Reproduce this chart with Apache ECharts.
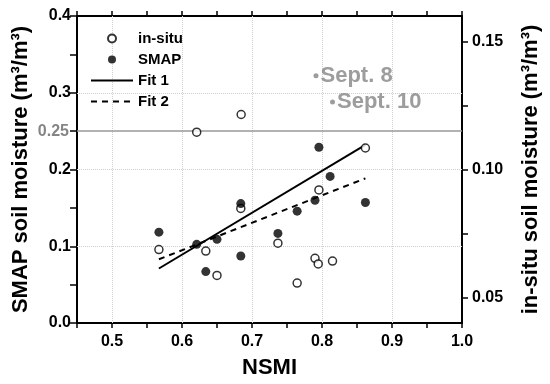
<!DOCTYPE html>
<html>
<head>
<meta charset="utf-8">
<script src="https://cdn.jsdelivr.net/npm/echarts@6/dist/echarts.min.js"></script>
<style>html,body{margin:0;padding:0;background:#fff}#c{width:550px;height:384px}</style>
</head>
<body>
<div id="c"></div>
<script>
// NSMI (x) values and soil moisture values
const insituX = [0.567, 0.621, 0.634, 0.650, 0.684, 0.6845, 0.737, 0.7645, 0.790, 0.7946, 0.7956, 0.815, 0.862];
const insituY = [0.0687, 0.1146, 0.0681, 0.0586, 0.0848, 0.1215, 0.0712, 0.0556, 0.0653, 0.0631, 0.092, 0.0642, 0.1084];
const smapX = [0.567, 0.621, 0.634, 0.650, 0.684, 0.684, 0.737, 0.7645, 0.790, 0.7956, 0.8116, 0.862];
const smapY = [0.1184, 0.1025, 0.067, 0.109, 0.1556, 0.0873, 0.1167, 0.1457, 0.160, 0.229, 0.191, 0.157];
const fit1X = [0.567, 0.862];
const fit1Y = [0.071, 0.232];
const fit2X = [0.567, 0.862];
const fit2Y = [0.083, 0.1885];
const septNames = ['Sept. 8', 'Sept. 10'];
const septX = [0.7914, 0.815];
const septY = [0.322, 0.288];
const threshold = 0.25;
const gridX = [0.5, 0.6, 0.7, 0.8, 0.9];
const gridY = [0.1, 0.2, 0.3];
const rightLabels = [0.05, 0.10, 0.15];
const rightTicks = [0.05, 0.075, 0.10, 0.125, 0.15];

const FONT = 'Liberation Sans, Arial, sans-serif';
const zip = (xs, ys) => xs.map((x, i) => [x, ys[i]]);

const dotted = {color: '#cfcfcf', type: 'dotted', width: 1};
const markData = [];
gridX.forEach(v => markData.push({xAxis: v, lineStyle: dotted, label: {show: false}}));
gridY.forEach(v => markData.push({yAxis: v, lineStyle: dotted, label: {show: false}}));
markData.push({yAxis: threshold, lineStyle: {color: '#999', type: 'solid', width: 1.5},
  label: {show: true, position: 'start', distance: 8, formatter: '0.25', color: '#858585',
    fontSize: 16, fontWeight: 'bold', fontFamily: FONT}});

const chart = echarts.init(document.getElementById('c'));
chart.setOption({
  animation: false,
  backgroundColor: '#fff',
  grid: {left: 77, right: 83, top: 16, bottom: 60, containLabel: false},
  legend: {
    data: ['in-situ', 'SMAP', {name: 'Fit 1', itemStyle: {opacity: 0}}, {name: 'Fit 2', itemStyle: {opacity: 0}}],
    orient: 'vertical', left: 85, top: 26,
    itemWidth: 42, itemHeight: 8, itemGap: 6,
    textStyle: {fontSize: 15, fontWeight: 'bold', fontFamily: FONT, color: '#000'}
  },
  xAxis: [{
    type: 'value', min: 0.45, max: 1.0, interval: 0.05,
    name: 'NSMI', nameLocation: 'middle', nameGap: 34,
    nameTextStyle: {fontSize: 22, fontWeight: 'bold', fontFamily: FONT, color: '#000'},
    axisLine: {show: true, onZero: false, lineStyle: {color: '#000', width: 2}},
    axisTick: {show: true, length: 5, lineStyle: {color: '#000', width: 1.5}},
    axisLabel: {fontSize: 16, fontWeight: 'bold', fontFamily: FONT, color: '#000', margin: 11,
      formatter: v => (Math.round(v * 100) % 10 === 0 ? v.toFixed(1) : '')},
    splitLine: {show: false}
  }, {
    type: 'value', position: 'top', min: 0.45, max: 1.0, interval: 0.05,
    axisLine: {show: true, onZero: false, lineStyle: {color: '#000', width: 2}},
    axisTick: {show: true, length: 5, lineStyle: {color: '#000', width: 1.5}},
    axisLabel: {show: false}, splitLine: {show: false}
  }],
  yAxis: [{
    type: 'value', min: 0, max: 0.4, interval: 0.05,
    name: 'SMAP soil moisture (m³/m³)', nameLocation: 'middle', nameGap: 45,
    nameTextStyle: {fontSize: 22, fontWeight: 'bold', fontFamily: FONT, color: '#000'},
    axisLine: {show: true, onZero: false, lineStyle: {color: '#000', width: 2}},
    axisTick: {show: true, length: 7, lineStyle: {color: '#000', width: 1.5}},
    axisLabel: {fontSize: 16, fontWeight: 'bold', fontFamily: FONT, color: '#000', margin: 6,
      formatter: v => (Math.round(v * 100) % 10 === 0 ? v.toFixed(1) : '')},
    splitLine: {show: false}
  }, {
    type: 'value', position: 'right', min: 0.04, max: 0.16,
    name: 'in-situ soil moisture (m³/m³)', nameLocation: 'middle', nameGap: 58,
    nameTextStyle: {fontSize: 22, fontWeight: 'bold', fontFamily: FONT, color: '#000'},
    axisLine: {show: true, onZero: false, lineStyle: {color: '#000', width: 2}},
    axisTick: {show: true, length: 6, customValues: rightTicks, lineStyle: {color: '#000', width: 1.5}},
    axisLabel: {fontSize: 16, fontWeight: 'bold', fontFamily: FONT, color: '#000', margin: 10,
      customValues: rightLabels, formatter: v => v.toFixed(2)},
    splitLine: {show: false}
  }],
  series: [{
    name: 'in-situ', type: 'scatter', xAxisIndex: 0, yAxisIndex: 1, z: 5,
    symbol: 'circle', symbolSize: 8,
    itemStyle: {color: '#fff', borderColor: '#000', borderWidth: 1.5},
    data: zip(insituX, insituY)
  }, {
    name: 'SMAP', type: 'scatter', xAxisIndex: 0, yAxisIndex: 0, z: 5,
    symbol: 'circle', symbolSize: 9,
    itemStyle: {color: '#000'},
    data: zip(smapX, smapY),
    markLine: {silent: true, symbol: 'none', z: 1, animation: false, data: markData}
  }, {
    name: 'Fit 1', type: 'line', xAxisIndex: 0, yAxisIndex: 0, z: 4,
    symbol: 'none', lineStyle: {color: '#000', width: 2, type: 'solid'},
    itemStyle: {color: '#000'},
    data: zip(fit1X, fit1Y)
  }, {
    name: 'Fit 2', type: 'line', xAxisIndex: 0, yAxisIndex: 0, z: 4,
    symbol: 'none', lineStyle: {color: '#000', width: 2, type: [6, 5]},
    itemStyle: {color: '#000'},
    data: zip(fit2X, fit2Y)
  }, {
    name: 'dates', type: 'scatter', xAxisIndex: 0, yAxisIndex: 0, z: 5,
    symbol: 'circle', symbolSize: 5,
    itemStyle: {color: '#858585'},
    label: {show: true, position: 'right', distance: 2, color: '#858585',
      fontSize: 22, fontWeight: 'bold', fontFamily: FONT,
      formatter: p => septNames[p.dataIndex]},
    data: zip(septX, septY)
  }]
});
</script>
</body>
</html>
